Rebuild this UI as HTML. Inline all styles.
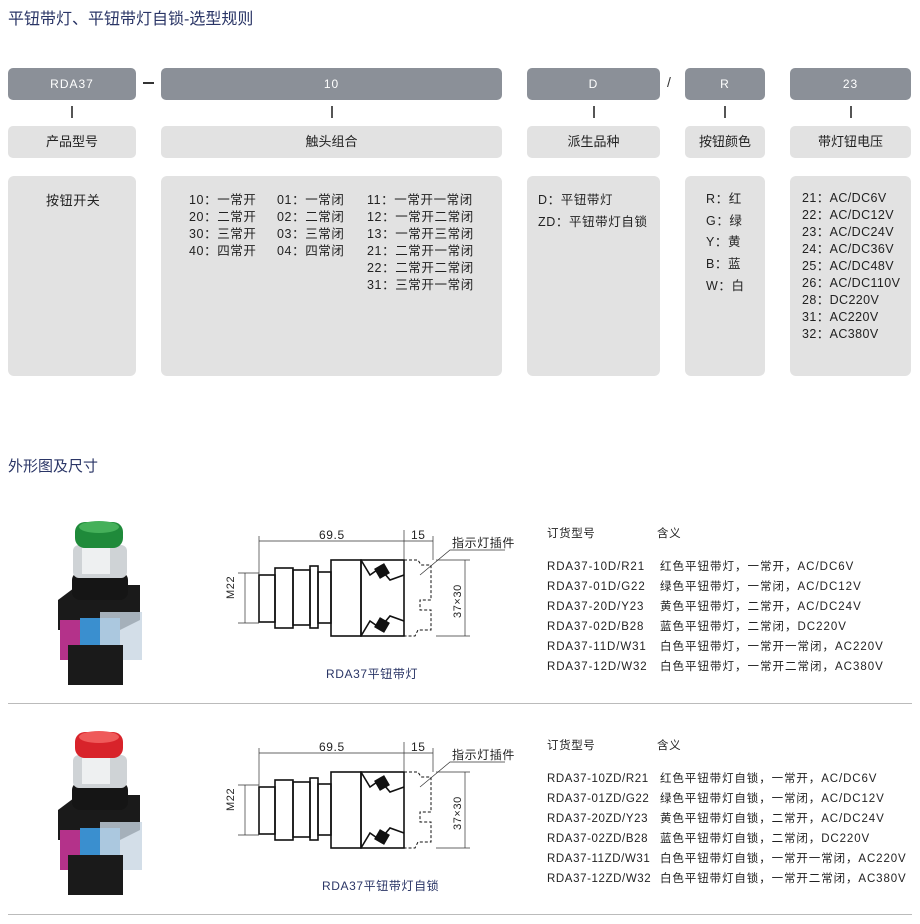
<!DOCTYPE html>
<html><head><meta charset="utf-8">
<style>
body{margin:0;width:920px;height:924px;background:#fff;position:relative;overflow:hidden;font-family:"Liberation Sans","Noto Sans CJK SC",sans-serif;color:#222;}
.a{position:absolute;}
.dk{position:absolute;background:#8b9098;border-radius:5px;color:#fff;font-size:12px;text-align:center;line-height:32px;height:32px;top:68px;letter-spacing:1px;}
.lt{position:absolute;background:#e2e2e2;border-radius:5px;font-size:13px;text-align:center;line-height:32px;height:32px;top:126px;}
.bg{position:absolute;background:#e2e2e2;border-radius:6px;top:176px;height:200px;font-size:12.5px;line-height:17px;letter-spacing:.6px;}
.tk{position:absolute;width:2px;height:12px;background:#555;top:106px;}
.t{position:absolute;font-size:11.5px;white-space:pre;letter-spacing:.6px;}
.nv{color:#2a3566;}
</style></head><body>
<div class="a nv" style="left:8px;top:5px;font-size:16px;">平钮带灯、平钮带灯自锁-选型规则</div>

<div class="dk" style="left:8px;width:128px;">RDA37</div>
<div class="a" style="left:143px;top:82px;width:11px;height:2px;background:#333"></div>
<div class="dk" style="left:161px;width:341px;">10</div>
<div class="dk" style="left:527px;width:133px;">D</div>
<div class="a" style="left:667px;top:74px;font-size:14px;color:#333">/</div>
<div class="dk" style="left:685px;width:80px;">R</div>
<div class="dk" style="left:790px;width:121px;">23</div>

<div class="tk" style="left:71px"></div><div class="tk" style="left:331px"></div>
<div class="tk" style="left:593px"></div><div class="tk" style="left:724px"></div><div class="tk" style="left:850px"></div>

<div class="lt" style="left:8px;width:128px;">产品型号</div>
<div class="lt" style="left:161px;width:341px;">触头组合</div>
<div class="lt" style="left:527px;width:133px;">派生品种</div>
<div class="lt" style="left:685px;width:80px;">按钮颜色</div>
<div class="lt" style="left:790px;width:121px;">带灯钮电压</div>

<div class="bg" style="left:8px;width:128px;"><div class="a" style="left:38px;top:16px;font-size:13px">按钮开关</div></div>
<div class="bg" style="left:161px;width:341px;">
<div class="a" style="left:28px;top:16px;white-space:pre">10：一常开
20：二常开
30：三常开
40：四常开</div>
<div class="a" style="left:116px;top:16px;white-space:pre">01：一常闭
02：二常闭
03：三常闭
04：四常闭</div>
<div class="a" style="left:206px;top:16px;white-space:pre">11：一常开一常闭
12：一常开二常闭
13：一常开三常闭
21：二常开一常闭
22：二常开二常闭
31：三常开一常闭</div></div>
<div class="bg" style="left:527px;width:133px;line-height:22px;"><div class="a" style="left:11px;top:13px;white-space:pre">D：平钮带灯
ZD：平钮带灯自锁</div></div>
<div class="bg" style="left:685px;width:80px;line-height:21.7px;"><div class="a" style="left:21px;top:13px;white-space:pre">R：红
G：绿
Y：黄
B：蓝
W：白</div></div>
<div class="bg" style="left:790px;width:121px;letter-spacing:.4px"><div class="a" style="left:12px;top:14px;white-space:pre">21：AC/DC6V
22：AC/DC12V
23：AC/DC24V
24：AC/DC36V
25：AC/DC48V
26：AC/DC110V
28：DC220V
31：AC220V
32：AC380V</div></div>

<div class="a nv" style="left:8px;top:455px;font-size:15px;">外形图及尺寸</div>

<div class="a" style="left:8px;top:703px;width:904px;height:1px;background:#bbb"></div>
<div class="a" style="left:8px;top:914px;width:904px;height:1px;background:#bbb"></div>

<svg class="a" style="left:0;top:0" width="920" height="924">
<defs>
<g id="dw" fill="none" stroke="#111" stroke-width="1.6">
<rect x="259" y="575" width="16" height="47"/>
<rect x="275" y="568" width="18" height="60"/>
<rect x="293" y="570" width="17" height="55"/>
<rect x="310" y="566" width="8" height="62"/>
<rect x="318" y="572" width="13" height="51"/>
<rect x="331" y="560" width="30" height="76"/>
<rect x="361" y="560" width="43" height="76"/>
<path d="M361 560 L370 575 L380 568 L390 580 L404 575 M361 636 L370 621 L380 628 L390 616 L404 621"/>
<rect x="377" y="566" width="10" height="10" fill="#111" transform="rotate(-30 382 571)"/>
<rect x="377" y="620" width="10" height="10" fill="#111" transform="rotate(30 382 625)"/>
<g stroke-width="1" stroke-dasharray="3,2"><path d="M404 560 H418 L421 565 H431 V600 H420 V610 H431 V630 H418 L415 636 H404"/></g>
<g stroke-width="0.7" stroke="#333"><path d="M259 575 V536 M404 560 V530 M433 560 V536 M259 541 H404 M404 541 H433 M245 573 V623 M238 573 H259 M238 623 H259 M465 560 V636 M436 560 H470 M436 636 H470 M420 575 L450 550 H505"/></g>
</g>
</defs>
<use href="#dw"/>
<use href="#dw" y="212"/>
<g id="ph">
<path d="M58 600 L78 585 H140 V620 L120 630 H58 Z" fill="#1a1a1a"/>
<rect x="60" y="620" width="20" height="40" fill="#b4328a"/>
<rect x="80" y="618" width="40" height="48" fill="#3a8fcf"/>
<rect x="100" y="612" width="42" height="48" fill="#c8d6e2" opacity=".8"/>
<rect x="68" y="645" width="55" height="40" fill="#1a1a1a"/>
<rect x="72" y="572" width="56" height="28" rx="8" fill="#151515"/>
<rect x="73" y="545" width="54" height="33" rx="6" fill="#cfd3d6"/>
<rect x="82" y="548" width="28" height="26" fill="#eef0f1"/>
</g>
<rect x="75" y="522" width="48" height="26" rx="10" fill="#1f8a3a"/>
<ellipse cx="99" cy="527" rx="20" ry="6" fill="#45b05a"/>
<use href="#ph" y="210"/>
<rect x="75" y="732" width="48" height="26" rx="10" fill="#d8232a"/>
<ellipse cx="99" cy="737" rx="20" ry="6" fill="#ef5a5a"/>
</svg>

<div class="t" style="left:319px;top:528px;font-size:12px">69.5</div>
<div class="t" style="left:411px;top:528px;font-size:12px">15</div>
<div class="t" style="left:452px;top:534px;font-size:12px">指示灯插件</div>
<div class="t" style="left:225px;top:599px;font-size:11px;transform:rotate(-90deg);transform-origin:left top">M22</div>
<div class="t" style="left:452px;top:618px;font-size:11px;transform:rotate(-90deg);transform-origin:left top">37×30</div>
<div class="t nv" style="left:326px;top:665px;font-size:12px">RDA37平钮带灯</div>

<div class="t" style="left:319px;top:740px;font-size:12px">69.5</div>
<div class="t" style="left:411px;top:740px;font-size:12px">15</div>
<div class="t" style="left:452px;top:746px;font-size:12px">指示灯插件</div>
<div class="t" style="left:225px;top:811px;font-size:11px;transform:rotate(-90deg);transform-origin:left top">M22</div>
<div class="t" style="left:452px;top:830px;font-size:11px;transform:rotate(-90deg);transform-origin:left top">37×30</div>
<div class="t nv" style="left:322px;top:877px;font-size:12px">RDA37平钮带灯自锁</div>

<div class="t" style="left:547px;top:525px;">订货型号</div><div class="t" style="left:657px;top:525px;">含义</div>
<div class="t" style="left:547px;top:557px;line-height:20px;letter-spacing:.9px">RDA37-10D/R21
RDA37-01D/G22
RDA37-20D/Y23
RDA37-02D/B28
RDA37-11D/W31
RDA37-12D/W32</div>
<div class="t" style="left:660px;top:557px;line-height:20px;letter-spacing:1px">红色平钮带灯，一常开，AC/DC6V
绿色平钮带灯，一常闭，AC/DC12V
黄色平钮带灯，二常开，AC/DC24V
蓝色平钮带灯，二常闭，DC220V
白色平钮带灯，一常开一常闭，AC220V
白色平钮带灯，一常开二常闭，AC380V</div>

<div class="t" style="left:547px;top:737px;">订货型号</div><div class="t" style="left:657px;top:737px;">含义</div>
<div class="t" style="left:547px;top:769px;line-height:20px;letter-spacing:.6px">RDA37-10ZD/R21
RDA37-01ZD/G22
RDA37-20ZD/Y23
RDA37-02ZD/B28
RDA37-11ZD/W31
RDA37-12ZD/W32</div>
<div class="t" style="left:660px;top:769px;line-height:20px;letter-spacing:.9px">红色平钮带灯自锁，一常开，AC/DC6V
绿色平钮带灯自锁，一常闭，AC/DC12V
黄色平钮带灯自锁，二常开，AC/DC24V
蓝色平钮带灯自锁，二常闭，DC220V
白色平钮带灯自锁，一常开一常闭，AC220V
白色平钮带灯自锁，一常开二常闭，AC380V</div>
</body></html>
